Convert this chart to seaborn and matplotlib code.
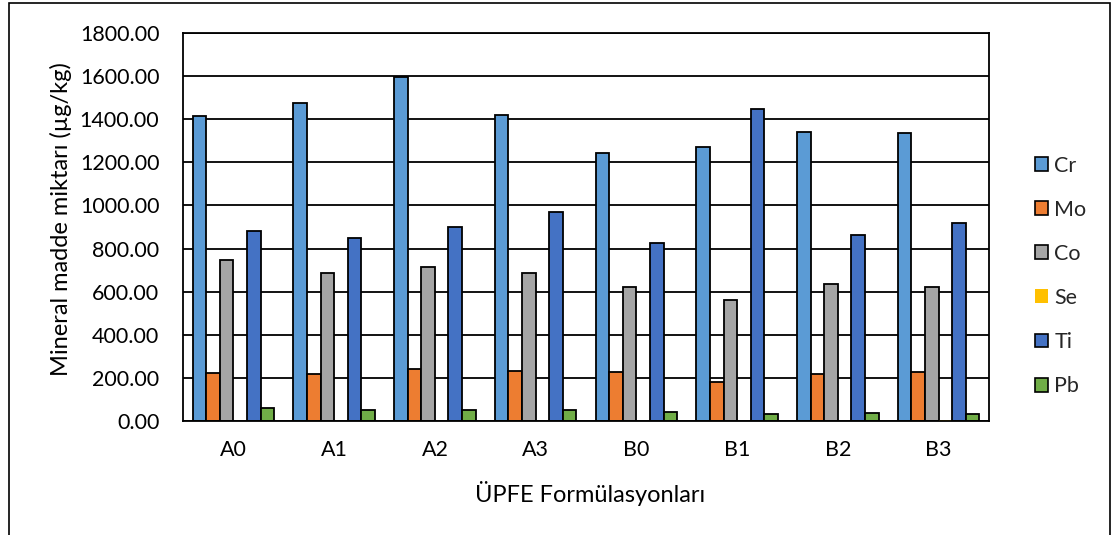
import numpy as np
import pandas as pd
import seaborn as sns
import matplotlib.pyplot as plt
from matplotlib.patches import Patch, Rectangle

# Mineral content per formulation (µg/kg)
formulations = ["A0", "A1", "A2", "A3", "B0", "B1", "B2", "B3"]
elements = ["Cr", "Mo", "Co", "Se", "Ti", "Pb"]
cr = [1414, 1474, 1595, 1419, 1243, 1270, 1343, 1337]
mo = [221, 218, 240, 232, 227, 182, 218, 227]
co = [745, 685, 713, 688, 623, 561, 637, 623]
se = [0.5, 0.5, 0.5, 0.5, 0.5, 0.5, 2.0, 4.0]
ti = [883, 849, 901, 968, 827, 1448, 862, 920]
pb = [60, 53, 53, 53, 43, 31, 37, 31]
colors = ["#5B9BD5", "#ED7D31", "#A5A5A5", "#FFC000", "#4472C4", "#70AD47"]
yticks = np.arange(0, 1801, 200)

series = dict(zip(elements, [cr, mo, co, se, ti, pb]))
df = pd.DataFrame(
    [(f, el, v) for el, vals in series.items() for f, v in zip(formulations, vals)],
    columns=["Formülasyon", "Element", "Değer"],
)

sns.set_theme(style="white")
plt.rcParams["font.family"] = ["Lato", "DejaVu Sans"]

W, H = 1117, 535
fig = plt.figure(figsize=(W / 100, H / 100), dpi=100)
ax = fig.add_axes([183 / W, 1 - 421 / H, (989 - 183) / W, (421 - 33) / H])

sns.barplot(
    data=df, x="Formülasyon", y="Değer", hue="Element",
    order=formulations, hue_order=elements, palette=colors, saturation=1,
    width=0.81, gap=0, edgecolor="black", linewidth=1.3,
    ax=ax, legend=False, errorbar=None,
)
# Se bars are drawn without an outline
for bar in ax.containers[elements.index("Se")]:
    bar.set_edgecolor("none")

ax.set_ylim(0, 1800)
ax.set_yticks(yticks)
ax.set_yticklabels([f"{v:.2f}" for v in yticks])
ax.set_xlim(-0.5, len(formulations) - 0.5)
ax.yaxis.grid(True, color="black", linewidth=1.3)
ax.set_axisbelow(True)
for sp in ax.spines.values():
    sp.set_color("black")
    sp.set_linewidth(1.3)
ax.tick_params(axis="both", length=0, labelsize=15.5, colors="black")
ax.tick_params(axis="y", pad=17)
ax.tick_params(axis="x", pad=14)
ax.set_xlabel("")
ax.set_ylabel("")

fig.text(61 / W, 1 - 219 / H, "Mineral madde miktarı (µg/kg)", rotation=90,
         ha="center", va="center", fontsize=17, color="black")
fig.text(590 / W, 1 - 493 / H, "ÜPFE Formülasyonları", ha="center",
         va="center", fontsize=17, color="black")

handles = [
    Patch(facecolor=c, edgecolor=("none" if el == "Se" else "black"),
          linewidth=1.2, label=el)
    for el, c in zip(elements, colors)
]
fig.legend(handles=handles, loc="upper left",
           bbox_to_anchor=(1026 / W, 1 - 147 / H), frameon=False,
           fontsize=15.5, handlelength=0.62, handleheight=0.62,
           handletextpad=0.3, labelspacing=1.12, borderaxespad=0)

# chart-area border
fig.add_artist(Rectangle((9 / W, -0.01), (1110 - 9) / W, 1 - 3 / H + 0.01,
                         transform=fig.transFigure, fill=False,
                         edgecolor="black", linewidth=1.2))

fig.savefig("out.png", dpi=100)
